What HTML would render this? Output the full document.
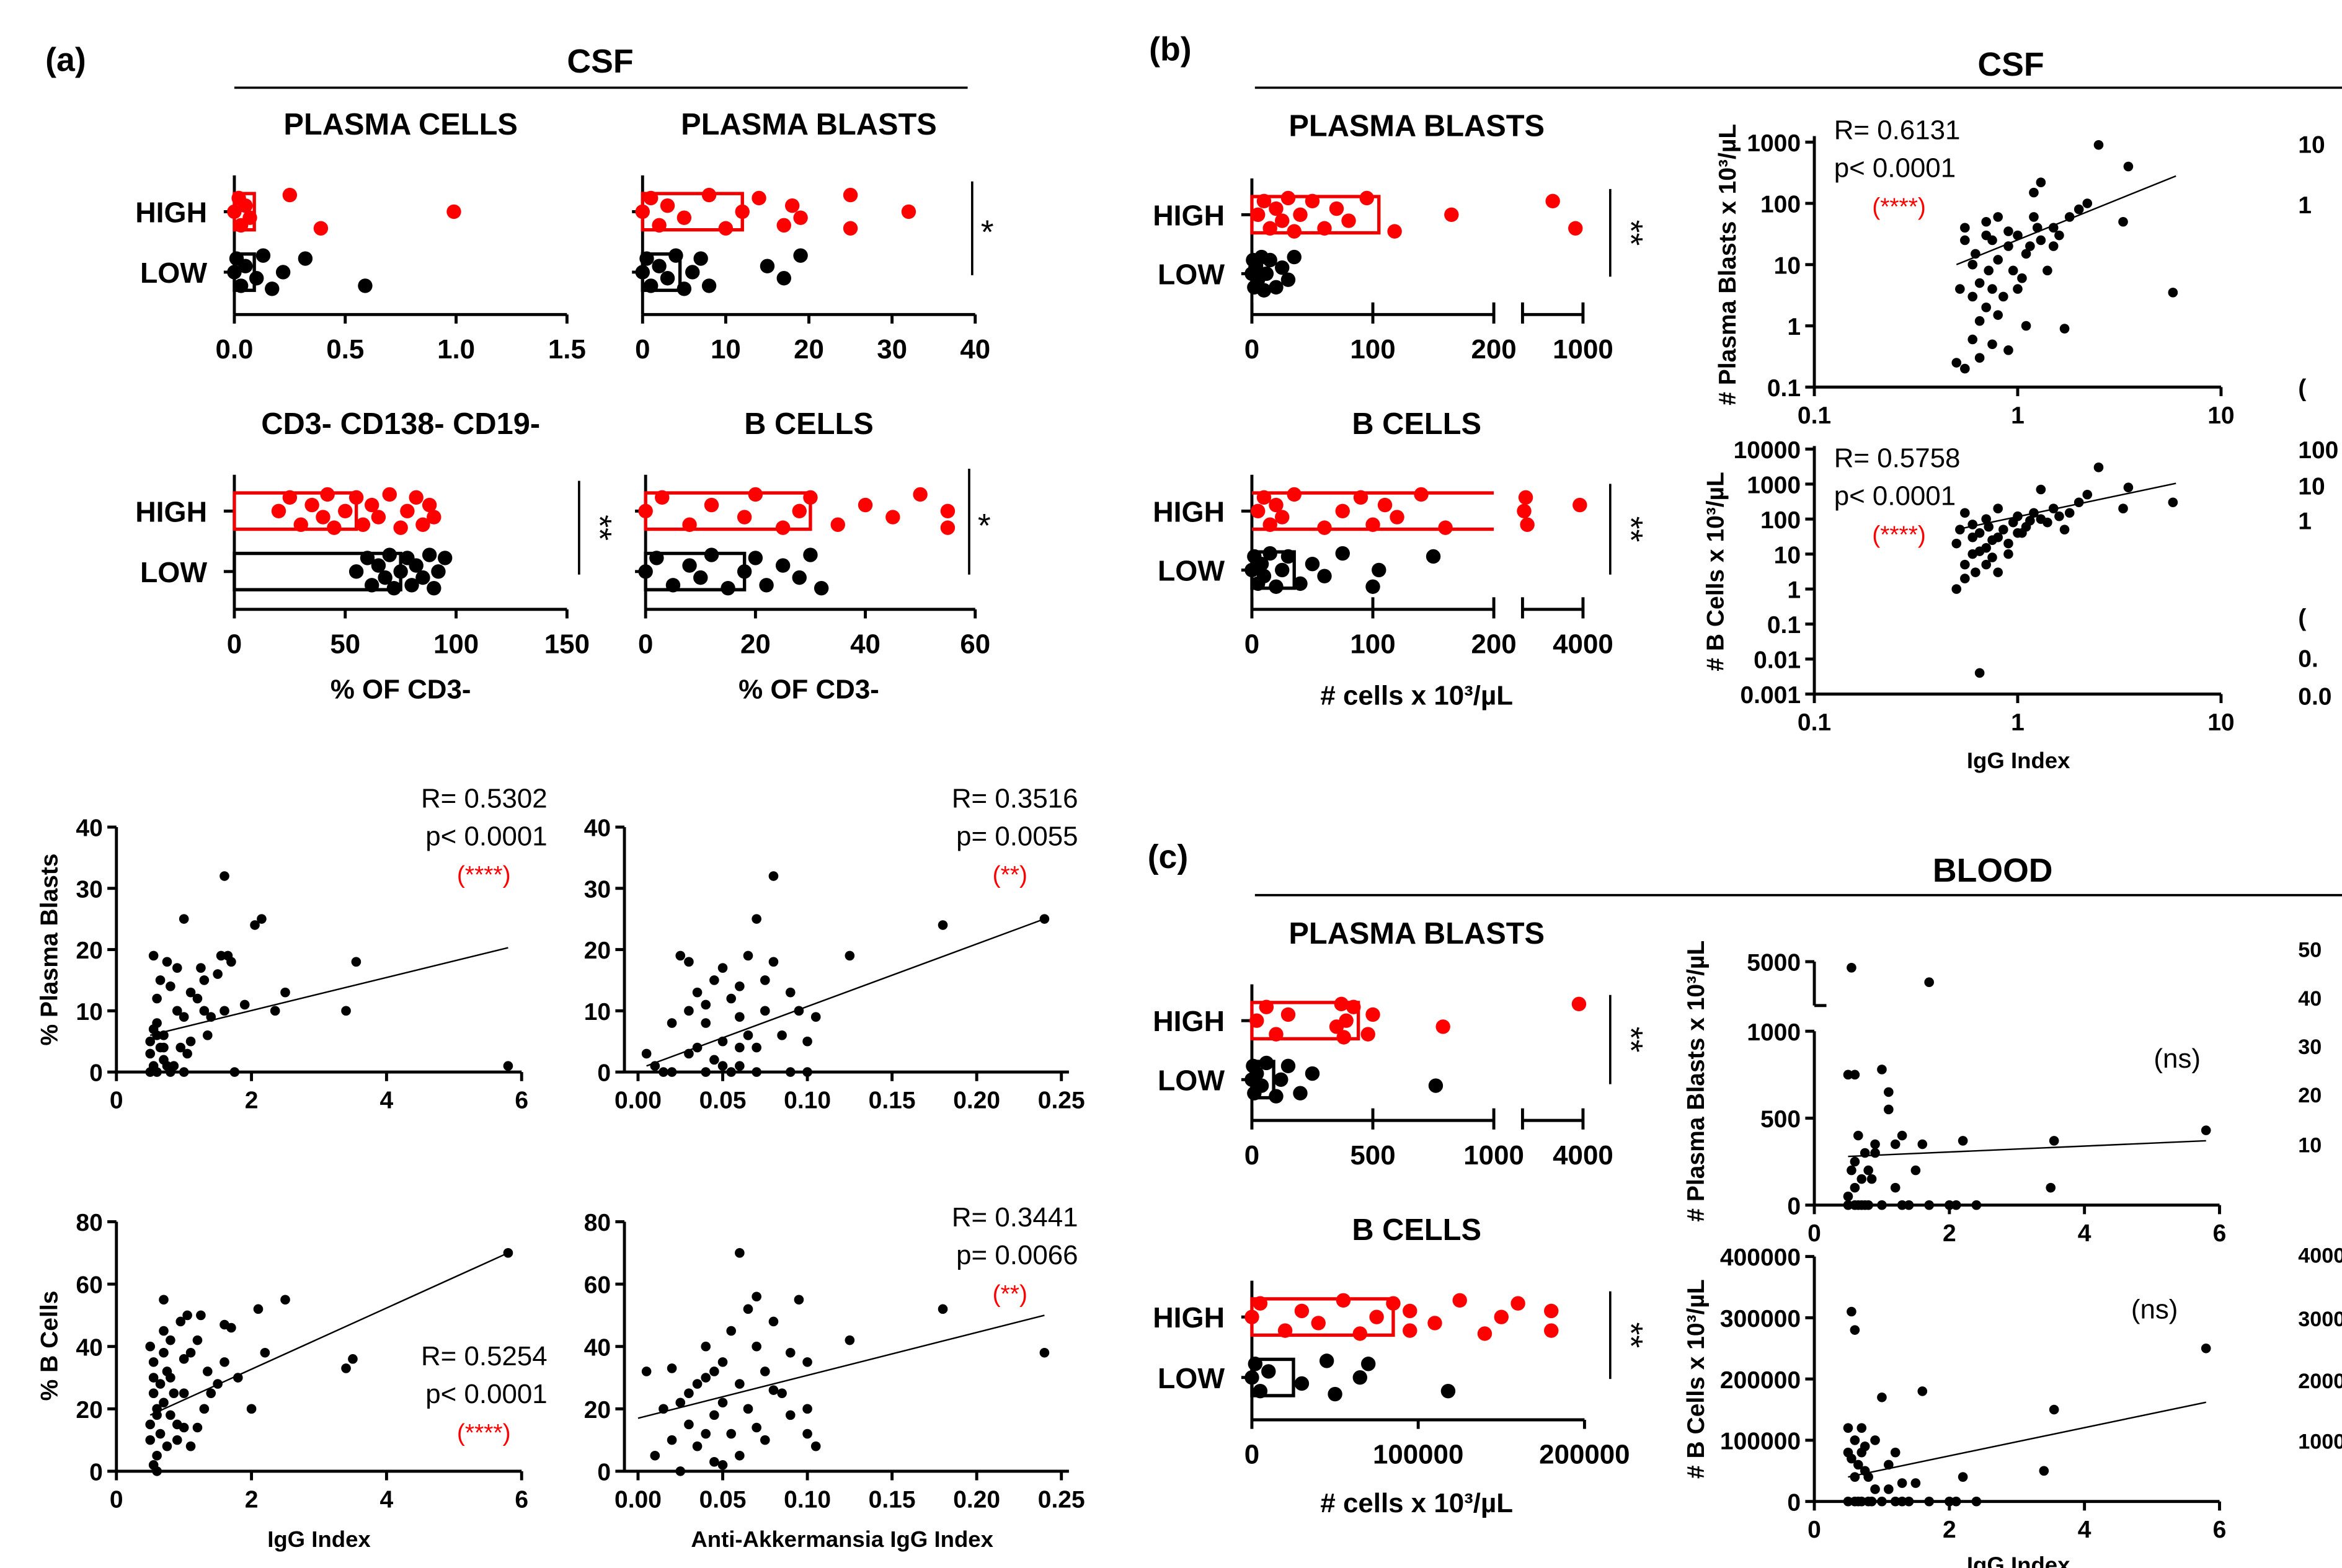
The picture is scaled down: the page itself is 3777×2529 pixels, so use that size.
<!DOCTYPE html>
<html><head><meta charset="utf-8"><style>
html,body{margin:0;padding:0;background:#fff}
svg{display:block}
text{font-family:"Liberation Sans",Arial,sans-serif}
</style></head><body>
<svg id="fig" width="3777" height="2529" viewBox="0 0 1549 1037" preserveAspectRatio="none" xmlns="http://www.w3.org/2000/svg"></svg>
<script>
// ---------- data ----------
const PC_HIGH=[0,0.02,0.03,0.05,0.07,0.25,0.39,0.99];
const PC_LOW=[0,0.01,0.03,0.05,0.1,0.13,0.17,0.22,0.32,0.59];
const PC_MED=[0.09,0.09];
const PB_HIGH=[0,1,2,3,5,8,10,12,14,17,18,19,25,25,32];
const PB_LOW=[0,0.5,1,2,3,4,5,6,7,8,15,17,19];
const PB_MED=[12,4.5];
const DN_HIGH=[20,25,30,35,40,42,45,50,55,58,62,65,70,75,78,82,85,88,90];
const DN_LOW=[55,60,62,65,68,70,72,75,78,80,82,85,88,90,92,95];
const DN_MED=[55,75];
const BC_HIGH=[0,3,8,12,18,20,25,28,30,35,40,45,50,55,55];
const BC_LOW=[0,2,5,8,10,12,15,18,20,22,25,28,30,32];
const BC_MED=[30,18];
const CPB_HIGH=[5,10,15,20,25,30,35,40,50,60,70,80,95,118,165,600,900];
const CPB_LOW=[0,1,2,3,5,8,10,12,15,20,25,30,35];
const CPB_MED=[105,8];
const CBC_HIGH=[5,10,15,20,25,35,60,75,90,100,110,120,140,160,300,400,500,3800];
const CBC_LOW=[0,2,5,8,10,15,20,25,30,40,50,60,75,100,105,150];
const CBC_MED=[200,35];
const BPB_HIGH=[20,60,100,150,350,370,380,390,420,480,500,790,3800];
const BPB_LOW=[0,5,10,20,40,60,100,120,150,200,250,760];
const BPB_MED=[440,90];
const BBC_HIGH=[0,5000,20000,30000,40000,55000,65000,75000,85000,95000,95000,110000,125000,140000,150000,160000,180000,180000];
const BBC_LOW=[0,2000,5000,10000,30000,45000,50000,65000,70000,118000];
const BBC_MED=[85000,25000];

const S5_X=[0.5,0.5,0.55,0.6,0.5,0.55,0.6,0.65,0.7,0.7,0.75,0.8,0.85,0.9,0.95,1.0,1.0,1.05,1.1,1.2,1.25,1.3,1.35,1.4,1.5,1.55,1.6,1.65,1.7,1.75,1.9,2.05,2.15,2.35,2.5,3.4,3.55,5.8,0.6,0.65,0.8,0.7,0.6,0.55,0.9,1.1,1.6,1.3,0.75,1.0];
const S5_Y=[5,3,1,0,0,19,8,4,2,6,18,0,1,10,4,25,9,3,5,12,17,15,6,9,16,19,32,19,18,0,11,24,25,10,13,10,18,1,12,15,14,4,6,7,17,13,10,10,1,0];
const S6_X=[0.005,0.01,0.015,0.02,0.025,0.03,0.03,0.035,0.04,0.04,0.045,0.05,0.05,0.055,0.055,0.06,0.06,0.06,0.065,0.07,0.07,0.075,0.08,0.08,0.085,0.09,0.09,0.095,0.1,0.1,0.105,0.125,0.18,0.24,0.035,0.045,0.065,0.07,0.03,0.02,0.05,0.075,0.04,0.06];
const S6_Y=[3,1,0,8,19,18,10,4,0,8,2,17,5,12,0,9,14,4,19,25,0,10,32,18,6,13,0,10,5,0,9,19,24,25,13,15,6,4,3,0,1,15,11,1];
const S7_X=[0.5,0.5,0.5,0.55,0.55,0.55,0.6,0.6,0.6,0.65,0.65,0.7,0.7,0.7,0.75,0.75,0.8,0.8,0.85,0.9,0.95,1.0,1.0,1.05,1.1,1.2,1.25,1.3,1.35,1.5,1.6,1.7,1.6,2.0,2.1,2.2,2.5,3.4,3.5,5.8,0.55,0.6,0.9,1.1,1.4,0.7,0.8,1.0,1.2,1.8];
const S7_Y=[40,15,10,25,30,35,20,5,0,28,12,55,45,22,32,8,30,18,25,10,48,36,14,50,38,42,50,20,32,28,47,46,35,20,52,38,55,33,36,70,2,18,15,8,25,38,42,25,14,30];
const S8_X=[0.005,0.01,0.015,0.02,0.02,0.025,0.03,0.03,0.035,0.04,0.04,0.045,0.045,0.05,0.05,0.055,0.055,0.06,0.06,0.065,0.065,0.07,0.07,0.075,0.075,0.08,0.085,0.09,0.095,0.1,0.1,0.105,0.125,0.18,0.24,0.035,0.045,0.06,0.025,0.09,0.07,0.05,0.08,0.04,0.1];
const S8_Y=[32,5,20,10,33,0,15,25,8,30,40,3,18,22,35,45,12,70,28,52,20,56,40,10,32,48,25,18,55,20,12,8,42,52,38,28,32,5,22,38,14,2,26,12,35];
const S3_X=[0.5,0.52,0.55,0.55,0.55,0.6,0.6,0.62,0.65,0.65,0.7,0.7,0.72,0.75,0.75,0.8,0.8,0.85,0.9,0.9,0.95,1.0,1.0,1.1,1.1,1.2,1.25,1.3,1.3,1.4,1.5,1.6,1.7,1.8,2.0,2.2,2.5,3.3,3.5,5.8,0.6,0.7,0.8,1.05,1.15,0.65,0.75,1.5,1.2,0.9];
const S3_Y=[0.25,4,0.2,40,25,0.6,10,15,0.3,5,2,50,8,0.5,25,1.5,12,3,20,0.4,8,4,30,15,1,150,40,25,220,8,20,30,0.9,60,80,100,900,50,400,3.5,3,30,60,6,20,1.2,4,40,60,35];
const S4_X=[0.5,0.5,0.52,0.55,0.55,0.6,0.6,0.62,0.65,0.65,0.7,0.7,0.72,0.75,0.8,0.8,0.85,0.9,0.95,1.0,1.0,1.1,1.2,1.3,1.3,1.4,1.5,1.6,1.7,1.8,2.0,2.2,2.5,3.3,3.5,5.8,0.55,0.6,0.7,0.9,1.05,0.75,1.15,0.65,0.8];
const S4_Y=[1,20,50,5,150,30,10,3,0.004,40,100,15,60,8,30,200,50,20,80,120,40,60,150,100,700,80,200,120,50,150,300,500,3000,200,800,300,2,70,5,10,40,25,90,12,3];
const S9_X=[0.5,0.55,0.6,0.6,0.6,0.5,0.65,0.7,0.75,0.8,0.8,0.9,1.0,1.0,1.1,1.1,1.2,1.3,1.3,1.4,1.6,1.7,1.7,2.0,2.1,2.2,2.4,3.5,3.55,5.8,0.55,0.6,0.7,0.9,0.5,0.65,0.85,1.2,1.5,0.75];
const S9_Y=[750,4500,750,100,0,0,400,0,300,200,0,350,780,0,650,550,100,400,0,0,350,3300,0,0,0,370,0,100,370,430,200,250,150,300,50,0,150,350,200,0];
const S10_X=[0.5,0.55,0.6,0.6,0.6,0.5,0.65,0.7,0.7,0.75,0.8,0.8,0.9,1.0,1.0,1.1,1.2,1.3,1.3,1.4,1.5,1.6,1.7,2.0,2.1,2.2,2.4,3.4,3.55,5.8,0.55,0.6,0.7,0.9,1.1,0.65,0.85,1.2,0.5,0.75];
const S10_Y=[120000,310000,280000,100000,0,0,60000,80000,0,50000,40000,0,100000,170000,0,60000,80000,30000,0,0,30000,180000,0,0,0,40000,0,50000,150000,250000,70000,40000,120000,20000,20000,0,0,0,80000,90000];
const FIT5=[0.5,6,5.8,20.3], FIT6=[0.005,1,0.24,25], FIT7=[0.5,18,5.8,70], FIT8=[0,17,0.24,50];
const FIT3=[0.5,10,6,280], FIT4=[0.5,50,6,1050], FIT9=[0.5,280,5.8,370], FIT10=[0.5,40000,5.8,162000];

// ---------- helpers ----------
const NS='http://www.w3.org/2000/svg';
const svg=document.getElementById('fig');
function mk(tag,attrs,name,txt){
  const el=document.createElementNS(NS,tag);
  for(const k in attrs) el.setAttribute(k,attrs[k]);
  
  
  if(txt!==undefined) el.textContent=txt;
  svg.appendChild(el); return el;
}
function T(x,y,s,size,anchor,name,opts){opts=opts||{};
  return mk('text',Object.assign({x:x,y:y,'font-size':size,'text-anchor':anchor||'middle','font-weight':opts.w||'normal',fill:opts.fill||'#000'},opts.extra||{}),name,s);}
function L(x1,y1,x2,y2,name,w){return mk('line',{x1:x1,y1:y1,x2:x2,y2:y2,stroke:'#000','stroke-width':w||2},name);}
const lin=(d0,d1,r0,r1)=>v=>r0+(v-d0)/(d1-d0)*(r1-r0);
const lg=(d0,d1,r0,r1)=>v=>r0+(Math.log10(v)-Math.log10(d0))/(Math.log10(d1)-Math.log10(d0))*(r1-r0);
const JIT=[0,-9,9,-4,4,-11,11];

// ---------- dot plot ----------
function dotplot(o){
  const sx=o.sx, x0=o.x0;
  T(o.titleX,o.titleY,o.title,20,'middle',o.id+'-title',{w:'bold'});
  L(x0,o.yH-24,x0,o.ay,o.id+'-y-axis');
  if(o.breakAt){
    L(x0,o.ay,o.breakAt[0],o.ay,o.id+'-x-axis');
    L(o.breakAt[1],o.ay,o.breakAt[2],o.ay,o.id+'-x-axis-upper');
    L(o.breakAt[1],o.ay-8,o.breakAt[1],o.ay+6,o.id+'-break-right');
  } else L(x0,o.ay,o.x1,o.ay,o.id+'-x-axis');
  o.ticks.forEach((t,i)=>{const x=sx(t);L(x,o.ay-(o.breakAt?8:0),x,o.ay+6,o.id+'-x-tick');
    T(x,o.ay+29,o.tickLabels[i],18,'middle',o.id+'-x-tick-label',{w:'bold'});});
  [['HIGH',o.yH],['LOW',o.yL]].forEach(([lab,y])=>{L(x0-7,y,x0,y,o.id+'-y-tick');
    if(!o.noLabels) T(x0-18,y+7,lab,19,'end',o.id+'-'+lab.toLowerCase()+'-label',{w:'bold'});});
  const draw=(vals,y,col,name)=>{vals.forEach((v,i)=>{
    mk('circle',{cx:sx(v),cy:y+JIT[i%JIT.length],r:4.8,fill:col},name);});};
  if(o.openHigh){
    const xe=sx(o.med[0]);
    L(x0,o.yH-12,xe,o.yH-12,o.id+'-high-bar-top',2.2).setAttribute('stroke','#e00');
    L(x0,o.yH+12,xe,o.yH+12,o.id+'-high-bar-bottom',2.2).setAttribute('stroke','#e00');
  } else
  mk('rect',{x:x0,y:o.yH-12,width:sx(o.med[0])-x0,height:24,fill:'none',stroke:'#e00','stroke-width':2.2},o.id+'-high-bar');
  mk('rect',{x:x0,y:o.yL-12,width:sx(o.med[1])-x0,height:24,fill:'none',stroke:'#000','stroke-width':2.2},o.id+'-low-bar');
  draw(o.high,o.yH,'#f00',o.id+'-high-dot');
  draw(o.low,o.yL,'#000',o.id+'-low-dot');
  if(o.sig){L(o.sig[0],o.sig[1],o.sig[0],o.sig[2],o.id+'-sig-bracket',1.5);
    if(o.sig[3]==='*') T(o.sig[0]+10,o.sig[1]+(o.sig[2]-o.sig[1])/2+10,'*',22,'middle',o.id+'-sig-star');
    else T(o.sig[0]+12,(o.sig[1]+o.sig[2])/2,'**',22,'middle',o.id+'-sig-stars',{extra:{transform:`rotate(90 ${o.sig[0]+12} ${(o.sig[1]+o.sig[2])/2})`,'dominant-baseline':'middle'}});}
  if(o.xlabel) T(o.xlabelX,o.xlabelY,o.xlabel,18,'middle',o.id+'-x-title',{w:'bold'});
}

// ---------- scatter ----------
function scatter(o){
  const sx=o.sx, sy=o.sy;
  L(o.ax,o.yTop,o.ax,o.ay,o.id+'-y-axis');
  L(o.ax,o.ay,o.xEnd,o.ay,o.id+'-x-axis');
  o.xt.forEach((t,i)=>{const x=sx(t);L(x,o.ay,x,o.ay+6,o.id+'-x-tick');T(x,o.ay+24,o.xtl[i],16,'middle',o.id+'-x-tick-label',{w:'bold'});});
  o.yt.forEach((t,i)=>{const y=sy(t);L(o.ax-6,y,o.ax,y,o.id+'-y-tick');T(o.ax-9,y+6,o.ytl[i],16,'end',o.id+'-y-tick-label',{w:'bold'});});
  o.X.forEach((x,i)=>{mk('circle',{cx:sx(x),cy:sy(o.Y[i]),r:3.2,fill:'#000'},o.id+'-point');});
  const f=o.fit; L(sx(f[0]),sy(f[1]),sx(f[2]),sy(f[3]),o.id+'-fit-line',1);
  if(o.ylabel){const cy=o.ylabelY;T(o.ylabelX,cy,o.ylabel,16,'middle',o.id+'-y-title',{w:'bold',extra:{transform:`rotate(-90 ${o.ylabelX} ${cy})`}});}
  if(o.xlabel) T(o.xlabelX,o.xlabelY,o.xlabel,15,'middle',o.id+'-x-title',{w:'bold'});
  if(o.stats){const s=o.stats;s.lines.forEach((l,i)=>T(s.x,s.y+i*25,l,18,s.anchor,o.id+'-stat-'+i));
    T(s.sx,s.y+50,s.star,16,'middle',o.id+'-significance',{fill:'#f00'});}
}

// ---------- headers ----------
T(30,47,'(a)',22,'start','panel-a-label',{w:'bold'});
T(397,48,'CSF',22,'middle','a-csf-header',{w:'bold'});L(155,58,640,58,'a-header-line',1.5);
T(760,40,'(b)',22,'start','panel-b-label',{w:'bold'});
T(1330,50,'CSF',22,'middle','b-csf-header',{w:'bold'});L(830,58,1549,58,'b-header-line',1.5);
T(759,574,'(c)',22,'start','panel-c-label',{w:'bold'});
T(1318,583,'BLOOD',22,'middle','c-blood-header',{w:'bold'});L(830,592,1549,592,'c-header-line',1.5);

// ---------- (a) dot plots ----------
dotplot({id:'a-plasma-cells',title:'PLASMA CELLS',titleX:265,titleY:89,x0:155,x1:375,sx:lin(0,1.5,155,375),ay:208,yH:140,yL:180,
  ticks:[0,0.5,1,1.5],tickLabels:['0.0','0.5','1.0','1.5'],high:PC_HIGH,low:PC_LOW,med:PC_MED});
dotplot({id:'a-plasma-blasts',title:'PLASMA BLASTS',titleX:535,titleY:89,x0:425,x1:645,sx:lin(0,40,425,645),ay:208,yH:140,yL:180,noLabels:true,
  ticks:[0,10,20,30,40],tickLabels:['0','10','20','30','40'],high:PB_HIGH,low:PB_LOW,med:PB_MED,sig:[643,120,182,'*']});
dotplot({id:'a-cd3neg',title:'CD3- CD138- CD19-',titleX:265,titleY:287,x0:155,x1:375,sx:lin(0,150,155,375),ay:403,yH:338,yL:378,
  ticks:[0,50,100,150],tickLabels:['0','50','100','150'],high:DN_HIGH,low:DN_LOW,med:DN_MED,sig:[383,318,380,'**'],xlabel:'% OF CD3-',xlabelX:265,xlabelY:462});
dotplot({id:'a-b-cells',title:'B CELLS',titleX:535,titleY:287,x0:427,x1:645,sx:lin(0,60,427,645),ay:403,yH:338,yL:378,noLabels:true,
  ticks:[0,20,40,60],tickLabels:['0','20','40','60'],high:BC_HIGH,low:BC_LOW,med:BC_MED,sig:[641,310,380,'*'],xlabel:'% OF CD3-',xlabelX:535,xlabelY:462});

// ---------- (a) scatters ----------
const igX=lin(0,6,77,345), akX=lin(0,0.25,422,702);
const pbY=lin(0,40,709,547), bcY=lin(0,80,973,808);
scatter({id:'a-pb-vs-igg',sx:igX,sy:pbY,ax:77,ay:709,yTop:547,xEnd:345,xt:[0,2,4,6],xtl:['0','2','4','6'],yt:[0,10,20,30,40],ytl:['0','10','20','30','40'],
  X:S5_X,Y:S5_Y,fit:FIT5,ylabel:'% Plasma Blasts',ylabelX:38,ylabelY:628,stats:{x:362,y:534,anchor:'end',lines:['R= 0.5302','p< 0.0001'],star:'(****)',sx:320}});
scatter({id:'a-pb-vs-akk',sx:akX,sy:pbY,ax:413,ay:709,yTop:547,xEnd:707,xt:[0,0.05,0.1,0.15,0.2,0.25],xtl:['0.00','0.05','0.10','0.15','0.20','0.25'],yt:[0,10,20,30,40],ytl:['0','10','20','30','40'],
  X:S6_X,Y:S6_Y,fit:FIT6,stats:{x:713,y:534,anchor:'end',lines:['R= 0.3516','p= 0.0055'],star:'(**)',sx:668}});
scatter({id:'a-bc-vs-igg',sx:igX,sy:bcY,ax:77,ay:973,yTop:808,xEnd:345,xt:[0,2,4,6],xtl:['0','2','4','6'],yt:[0,20,40,60,80],ytl:['0','20','40','60','80'],
  X:S7_X,Y:S7_Y,fit:FIT7,ylabel:'% B Cells',ylabelX:38,ylabelY:890,xlabel:'IgG Index',xlabelX:211,xlabelY:1023,stats:{x:362,y:903,anchor:'end',lines:['R= 0.5254','p< 0.0001'],star:'(****)',sx:320}});
scatter({id:'a-bc-vs-akk',sx:akX,sy:bcY,ax:413,ay:973,yTop:808,xEnd:707,xt:[0,0.05,0.1,0.15,0.2,0.25],xtl:['0.00','0.05','0.10','0.15','0.20','0.25'],yt:[0,20,40,60,80],ytl:['0','20','40','60','80'],
  X:S8_X,Y:S8_Y,fit:FIT8,xlabel:'Anti-Akkermansia IgG Index',xlabelX:557,xlabelY:1023,stats:{x:713,y:811,anchor:'end',lines:['R= 0.3441','p= 0.0066'],star:'(**)',sx:668}});

// ---------- (b) dot plots ----------
function brkScale(cut,maxHi,r1){const a=lin(0,cut,828,r1||988),b=lin(cut,maxHi,1007,1047);return v=>v<=cut?a(v):b(v);}
dotplot({id:'b-plasma-blasts',title:'PLASMA BLASTS',titleX:937,titleY:90,x0:828,sx:brkScale(200,1000),breakAt:[988,1007,1047],ay:208,yH:142,yL:181,
  ticks:[0,100,200,1000],tickLabels:['0','100','200','1000'],high:CPB_HIGH,low:CPB_LOW,med:CPB_MED,sig:[1065,125,183,'**']});
dotplot({id:'b-b-cells',title:'B CELLS',titleX:937,titleY:287,x0:828,sx:brkScale(200,4000),breakAt:[988,1007,1047],ay:403,yH:338,yL:377,openHigh:true,
  ticks:[0,100,200,4000],tickLabels:['0','100','200','4000'],high:CBC_HIGH,low:CBC_LOW,med:CBC_MED,sig:[1065,320,380,'**']});
T(937,466,'# cells x 10³/µL',18,'middle','b-x-title',{w:'bold'});

// ---------- (b) log scatters ----------
const lx=lg(0.1,10,1200,1469);
scatter({id:'b-pb-vs-igg',sx:lx,sy:lg(0.1,1000,256,94),ax:1200,ay:256,yTop:90,xEnd:1469,xt:[0.1,1,10],xtl:['0.1','1','10'],yt:[0.1,1,10,100,1000],ytl:['0.1','1','10','100','1000'],
  X:S3_X,Y:S3_Y,fit:FIT3,ylabel:'# Plasma Blasts x 10³/µL',ylabelX:1148,ylabelY:175,stats:{x:1213,y:92,anchor:'start',lines:['R= 0.6131','p< 0.0001'],star:'(****)',sx:1256}});
scatter({id:'b-bc-vs-igg',sx:lx,sy:lg(0.001,10000,459,297),ax:1200,ay:459,yTop:295,xEnd:1469,xt:[0.1,1,10],xtl:['0.1','1','10'],yt:[0.001,0.01,0.1,1,10,100,1000,10000],ytl:['0.001','0.01','0.1','1','10','100','1000','10000'],
  X:S4_X,Y:S4_Y,fit:FIT4,ylabel:'# B Cells x 10³/µL',ylabelX:1140,ylabelY:378,xlabel:'IgG Index',xlabelX:1335,xlabelY:508,stats:{x:1213,y:309,anchor:'start',lines:['R= 0.5758','p< 0.0001'],star:'(****)',sx:1256}});

// ---------- (c) dot plots ----------
dotplot({id:'c-plasma-blasts',title:'PLASMA BLASTS',titleX:937,titleY:624,x0:828,sx:brkScale(1000,4000),breakAt:[988,1007,1047],ay:741,yH:675,yL:714,
  ticks:[0,500,1000,4000],tickLabels:['0','500','1000','4000'],high:BPB_HIGH,low:BPB_LOW,med:BPB_MED,sig:[1065,658,717,'**']});
dotplot({id:'c-b-cells',title:'B CELLS',titleX:937,titleY:820,x0:828,x1:1048,sx:lin(0,200000,828,1048),ay:939,yH:871,yL:911,
  ticks:[0,100000,200000],tickLabels:['0','100000','200000'],high:BBC_HIGH,low:BBC_LOW,med:BBC_MED,sig:[1065,854,912,'**']});
T(937,1000,'# cells x 10³/µL',18,'middle','c-x-title',{w:'bold'});

// ---------- (c) scatters ----------
const bx=lin(0,6,1200,1468);
const pbLo=lin(0,1000,797,682), pbHi=lin(3000,5000,652,636);
const c3y=v=>v<=1000?pbLo(v):pbHi(v);
scatter({id:'c-pb-vs-igg',sx:bx,sy:c3y,ax:1200,ay:797,yTop:682,xEnd:1468,xt:[0,2,4,6],xtl:['0','2','4','6'],yt:[0,500,1000],ytl:['0','500','1000'],
  X:S9_X,Y:S9_Y,fit:FIT9,ylabel:'# Plasma Blasts x 10³/µL',ylabelX:1127,ylabelY:715});
L(1200,636,1200,665,'c-pb-y-axis-upper');L(1194,636,1200,636,'c-pb-y-tick-upper');
T(1191,642,'5000',16,'end','c-pb-y-tick-label-upper',{w:'bold'});
L(1200,665,1208,665,'c-pb-break');
T(1440,706,'(ns)',18,'middle','c-pb-ns');
scatter({id:'c-bc-vs-igg',sx:bx,sy:lin(0,400000,993,831),ax:1200,ay:993,yTop:831,xEnd:1468,xt:[0,2,4,6],xtl:['0','2','4','6'],yt:[0,100000,200000,300000,400000],ytl:['0','100000','200000','300000','400000'],
  X:S10_X,Y:S10_Y,fit:FIT10,ylabel:'# B Cells x 10³/µL',ylabelX:1127,ylabelY:912,xlabel:'IgG Index',xlabelX:1335,xlabelY:1040});
T(1425,872,'(ns)',18,'middle','c-bc-ns');

// ---------- cropped right-edge labels ----------
[['10',101],['1',141],['(',262],['100',303],['10',327],['1',350],['(',414],['0.',441],['0.0',466]].forEach(([s,y])=>T(1520,y,s,16,'start','cropped-tick-label',{w:'bold'}));
[['50',633],['40',665],['30',697],['20',729],['10',762],['4000',835],['3000',877],['2000',918],['1000',958]].forEach(([s,y])=>T(1520,y,s,14,'start','cropped-tick-label',{w:'bold'}));
</script>
</body></html>
